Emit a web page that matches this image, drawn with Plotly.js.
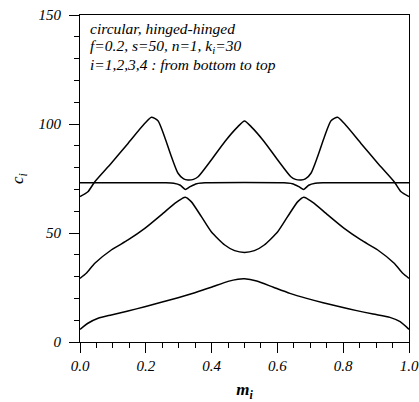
<!DOCTYPE html>
<html>
<head>
<meta charset="utf-8">
<script src="https://cdn.plot.ly/plotly-3.0.1.min.js"></script>
<style>html,body{margin:0;padding:0;background:#fff;}#chart{width:419px;height:402px;}</style>
</head>
<body>
<div id="chart"></div>
<script>
// i = 1 (bottom)
var x1 = [0, 0.024, 0.055, 0.095, 0.146, 0.197, 0.247, 0.298, 0.349, 0.399, 0.45, 0.48, 0.50, 0.537, 0.588, 0.638, 0.689, 0.739, 0.790, 0.841, 0.891, 0.942, 0.973, 1.0];
var c1 = [5.8, 8.6, 10.9, 12.4, 14.2, 16.2, 18.2, 20.3, 22.6, 25.1, 27.8, 28.8, 29.0, 28.0, 25.1, 22.3, 20.0, 18.0, 16.2, 14.4, 12.8, 11.3, 9.3, 5.8];
// i = 2
var x2 = [0, 0.019, 0.045, 0.095, 0.146, 0.197, 0.247, 0.288, 0.310, 0.320, 0.338, 0.369, 0.399, 0.44, 0.47, 0.50, 0.53, 0.56, 0.601, 0.631, 0.662, 0.680, 0.690, 0.712, 0.753, 0.803, 0.854, 0.905, 0.955, 0.981, 1.0];
var c2 = [29.2, 31.5, 36.1, 42.2, 46.8, 52.1, 58.3, 63.6, 65.8, 66.4, 64.4, 57.5, 50.6, 44.5, 41.9, 41.1, 41.9, 44.5, 50.6, 57.5, 64.4, 66.4, 65.8, 63.6, 58.3, 52.1, 46.8, 42.2, 36.1, 31.5, 29.2];
// i = 3
var x3 = [0, 0.26, 0.285, 0.305, 0.32, 0.335, 0.355, 0.38, 0.62, 0.645, 0.665, 0.68, 0.695, 0.715, 0.74, 1.0];
var c3 = [73.0, 73.0, 72.8, 71.9, 70.0, 71.3, 72.6, 73.0, 73.0, 72.6, 71.3, 70.0, 71.9, 72.8, 73.0, 73.0];
// i = 4 (top)
var x4 = [0, 0.024, 0.045, 0.095, 0.146, 0.197, 0.217, 0.237, 0.257, 0.278, 0.298, 0.315, 0.328, 0.345, 0.359, 0.399, 0.44, 0.48, 0.50, 0.52, 0.56, 0.601, 0.641, 0.655, 0.672, 0.685, 0.702, 0.722, 0.743, 0.763, 0.783, 0.803, 0.854, 0.905, 0.955, 0.976, 1.0];
var c4 = [66.7, 68.9, 73.5, 82.0, 91.1, 100.3, 103.1, 101.5, 94.2, 85.0, 77.4, 74.8, 74.3, 74.6, 75.8, 83.5, 91.9, 98.8, 101.4, 98.8, 91.9, 83.5, 75.8, 74.6, 74.3, 74.8, 77.4, 85.0, 94.2, 101.5, 103.1, 100.3, 91.1, 82.0, 73.5, 68.9, 66.7];

var xTicks = [0, 0.2, 0.4, 0.6, 0.8, 1.0];
var xTickText = ['0.0', '0.2', '0.4', '0.6', '0.8', '1.0'];
var yTicks = [0, 50, 100, 150];
var yTickText = ['0', '50', '100', '150'];

var noteLines = [
  'circular, hinged-hinged',
  'f=0.2, s=50, n=1, k<sub>i</sub>=30',
  'i=1,2,3,4 : from bottom to top'
];

var serif = 'Liberation Serif, Times New Roman, serif';
var lineStyle = {color: '#000', width: 1.5, shape: 'spline', smoothing: 0.6};

var traces = [[x1, c1], [x2, c2], [x3, c3], [x4, c4]].map(function (d) {
  return {x: d[0], y: d[1], mode: 'lines', line: lineStyle, hoverinfo: 'skip', showlegend: false};
});

var noteY = [0.96, 0.905, 0.85];
var annotations = noteLines.map(function (t, k) {
  return {
    text: t, xref: 'paper', yref: 'paper', x: 0.024, y: noteY[k],
    xanchor: 'left', yanchor: 'middle', showarrow: false,
    font: {family: serif, size: 15.5, style: 'italic', color: '#000'}
  };
});

var axisCommon = {
  showline: true, linecolor: '#000', linewidth: 1, mirror: true,
  ticks: 'outside', ticklen: 10, tickwidth: 1, tickcolor: '#000',
  showgrid: false, zeroline: false,
  tickfont: {family: serif, size: 15, style: 'italic', color: '#000'}
};

var layout = {
  width: 419, height: 402,
  margin: {l: 80, r: 10, t: 15, b: 60},
  paper_bgcolor: '#fff', plot_bgcolor: '#fff',
  showlegend: false,
  xaxis: Object.assign({}, axisCommon, {
    range: [0, 1], tickvals: xTicks, ticktext: xTickText,
    minor: {dtick: 0.05, ticks: 'outside', ticklen: 5, tickcolor: '#000', showgrid: false},
    title: {text: 'm<sub>i</sub>', standoff: 12, font: {family: serif, size: 17, style: 'italic', weight: 'bold', color: '#000'}}
  }),
  yaxis: Object.assign({}, axisCommon, {
    range: [0, 150], tickvals: yTicks, ticktext: yTickText,
    ticklabelstandoff: 5,
    minor: {dtick: 10, ticks: 'outside', ticklen: 5, tickcolor: '#000', showgrid: false},
    title: {text: 'c<sub>i</sub>', standoff: 10, font: {family: serif, size: 17, style: 'italic', color: '#000'}}
  }),
  annotations: annotations
};

Plotly.newPlot('chart', traces, layout, {staticPlot: true, displayModeBar: false});
</script>
</body>
</html>
